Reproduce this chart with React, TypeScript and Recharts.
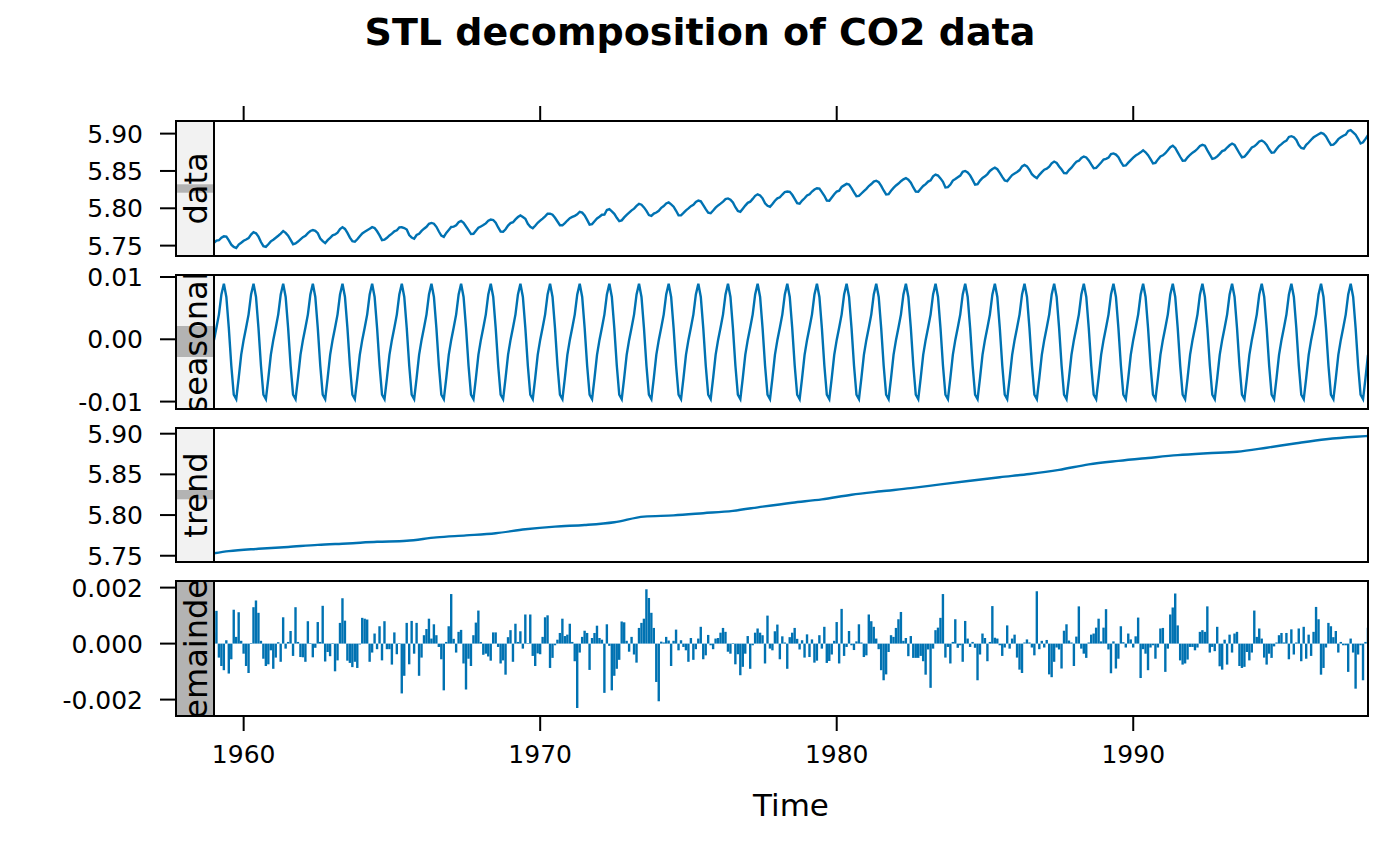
import { LineChart, Line, BarChart, Bar, XAxis, YAxis } from 'recharts'

// monthly series, January 1959 to December 1997
const START_YEAR = 1959
const FREQUENCY = 12
const TIME_DOMAIN: [number, number] = [1959, 1997.917]
const YEAR_TICKS = [1960, 1970, 1980, 1990]

// data panel (log CO2)
const LOG_CO2 = [
  5.7538, 5.7566, 5.7572, 5.7606, 5.7624, 5.762, 5.7569, 5.7513, 5.7483, 5.7467, 5.7514, 5.7538,
  5.7565, 5.7582, 5.7601, 5.7647, 5.7679, 5.7665, 5.762, 5.7548, 5.7493, 5.7483, 5.7519, 5.7557,
  5.7579, 5.7605, 5.7632, 5.7661, 5.7696, 5.7671, 5.7633, 5.7576, 5.7519, 5.753, 5.7554, 5.7583,
  5.7613, 5.7632, 5.7668, 5.7696, 5.7709, 5.7697, 5.7666, 5.7596, 5.756, 5.7533, 5.7573, 5.7605,
  5.7638, 5.7649, 5.7674, 5.7721, 5.7747, 5.7724, 5.767, 5.7607, 5.7558, 5.7551, 5.7585, 5.7626,
  5.7664, 5.7685, 5.7706, 5.7726, 5.7747, 5.7736, 5.7692, 5.7637, 5.7573, 5.7579, 5.7605, 5.7637,
  5.766, 5.7692, 5.7706, 5.7744, 5.7745, 5.7736, 5.7716, 5.7642, 5.7609, 5.7592, 5.7642, 5.7659,
  5.7697, 5.7727, 5.7752, 5.7792, 5.7804, 5.7794, 5.7752, 5.7689, 5.7635, 5.7618, 5.7671, 5.771,
  5.775, 5.7755, 5.7772, 5.7814, 5.7832, 5.7804, 5.7756, 5.7707, 5.7655, 5.7659, 5.77, 5.7739,
  5.7757, 5.7775, 5.7798, 5.7833, 5.7849, 5.7843, 5.7806, 5.7743, 5.7689, 5.7686, 5.7719, 5.7768,
  5.7801, 5.7814, 5.7852, 5.7883, 5.7905, 5.7884, 5.7859, 5.7791, 5.7752, 5.7733, 5.7766, 5.7805,
  5.7834, 5.7862, 5.7892, 5.7928, 5.7927, 5.7914, 5.7873, 5.7823, 5.7773, 5.7772, 5.7802, 5.7836,
  5.7868, 5.7884, 5.7899, 5.7918, 5.7953, 5.7942, 5.7905, 5.7845, 5.7782, 5.7788, 5.7826, 5.7863,
  5.7886, 5.7913, 5.7916, 5.7977, 5.7988, 5.7958, 5.7926, 5.7873, 5.7827, 5.7838, 5.7878, 5.7911,
  5.7941, 5.7972, 5.7995, 5.8031, 5.806, 5.8048, 5.8012, 5.7965, 5.7909, 5.7899, 5.7929, 5.7944,
  5.7966, 5.8007, 5.803, 5.8065, 5.8078, 5.8053, 5.8021, 5.7967, 5.7907, 5.7905, 5.7938, 5.7973,
  5.7998, 5.8028, 5.8047, 5.8085, 5.8104, 5.8093, 5.8043, 5.7988, 5.7942, 5.7934, 5.797, 5.8009,
  5.8038, 5.8062, 5.809, 5.8123, 5.8132, 5.8115, 5.8077, 5.8014, 5.7964, 5.7953, 5.7995, 5.8036,
  5.8073, 5.8088, 5.8126, 5.8167, 5.8187, 5.8173, 5.8133, 5.8068, 5.8033, 5.802, 5.8058, 5.8101,
  5.8134, 5.8147, 5.8184, 5.8218, 5.8225, 5.8221, 5.8181, 5.8126, 5.8069, 5.8062, 5.8103, 5.8134,
  5.8172, 5.8188, 5.8224, 5.8251, 5.8269, 5.8263, 5.8217, 5.8168, 5.8103, 5.8101, 5.8144, 5.8187,
  5.8225, 5.8235, 5.8287, 5.8307, 5.8327, 5.8318, 5.8271, 5.8213, 5.8162, 5.8165, 5.8198, 5.8231,
  5.8261, 5.8298, 5.8325, 5.8357, 5.8369, 5.835, 5.8299, 5.8238, 5.8186, 5.819, 5.8235, 5.8273,
  5.8306, 5.8331, 5.8363, 5.8388, 5.8404, 5.8382, 5.8344, 5.8279, 5.8224, 5.8221, 5.8262, 5.8299,
  5.8324, 5.8358, 5.8374, 5.8428, 5.8451, 5.8438, 5.84, 5.8354, 5.828, 5.8284, 5.8318, 5.8371,
  5.8392, 5.8415, 5.8438, 5.8489, 5.85, 5.8481, 5.8441, 5.838, 5.8316, 5.8324, 5.8371, 5.8407,
  5.8428, 5.8458, 5.85, 5.8526, 5.8543, 5.8523, 5.8474, 5.842, 5.8374, 5.8365, 5.8407, 5.8445,
  5.8467, 5.8486, 5.8512, 5.8561, 5.858, 5.8561, 5.8514, 5.8456, 5.8425, 5.8405, 5.8448, 5.8484,
  5.8517, 5.853, 5.8557, 5.8602, 5.8626, 5.8609, 5.856, 5.8519, 5.8471, 5.8469, 5.8511, 5.8544,
  5.8586, 5.8623, 5.8637, 5.8675, 5.8693, 5.8681, 5.8642, 5.8587, 5.8537, 5.8542, 5.8577, 5.8613,
  5.8653, 5.8662, 5.8679, 5.8727, 5.8735, 5.8719, 5.8685, 5.8622, 5.8569, 5.8574, 5.8611, 5.8646,
  5.8678, 5.8707, 5.8727, 5.8749, 5.8776, 5.875, 5.8711, 5.8657, 5.8602, 5.8609, 5.8655, 5.8694,
  5.8709, 5.8738, 5.8777, 5.8818, 5.8839, 5.8808, 5.875, 5.869, 5.8637, 5.8639, 5.8682, 5.8717,
  5.8745, 5.8766, 5.8797, 5.8835, 5.8849, 5.8838, 5.8775, 5.8718, 5.8662, 5.867, 5.8695, 5.8729,
  5.8766, 5.8779, 5.8814, 5.8844, 5.8867, 5.8848, 5.8791, 5.8734, 5.8683, 5.8691, 5.8729, 5.877,
  5.8814, 5.883, 5.886, 5.8895, 5.8907, 5.8887, 5.8848, 5.879, 5.8744, 5.8748, 5.8793, 5.8834,
  5.886, 5.8889, 5.8906, 5.8956, 5.8966, 5.8951, 5.8914, 5.8847, 5.8808, 5.8799, 5.885, 5.8881,
  5.8918, 5.8951, 5.8972, 5.8991, 5.901, 5.8998, 5.8962, 5.8903, 5.8849, 5.8853, 5.8883, 5.8926,
  5.895, 5.8972, 5.8987, 5.9036, 5.9048, 5.9017, 5.8985, 5.8931, 5.8868, 5.8884, 5.8929, 5.898,
]

// seasonal panel, one row per year
const SEASONAL_BY_YEAR = [
  [-0.0001, 0.0019, 0.004, 0.0072, 0.0089, 0.0068, 0.0018, -0.0042, -0.0089, -0.0096, -0.0062, -0.0025],
  [-0.0001, 0.0019, 0.004, 0.0072, 0.0089, 0.0068, 0.0018, -0.0042, -0.0089, -0.0096, -0.0062, -0.0025],
  [-0.0001, 0.0019, 0.004, 0.0072, 0.0089, 0.0068, 0.0018, -0.0042, -0.0089, -0.0096, -0.0062, -0.0025],
  [-0.0001, 0.0019, 0.004, 0.0072, 0.0089, 0.0068, 0.0018, -0.0042, -0.0089, -0.0096, -0.0062, -0.0025],
  [-0.0001, 0.0019, 0.004, 0.0072, 0.0089, 0.0068, 0.0018, -0.0042, -0.0089, -0.0096, -0.0062, -0.0025],
  [-0.0001, 0.0019, 0.004, 0.0072, 0.0089, 0.0068, 0.0018, -0.0042, -0.0089, -0.0096, -0.0062, -0.0025],
  [-0.0001, 0.0019, 0.004, 0.0072, 0.0089, 0.0068, 0.0018, -0.0042, -0.0089, -0.0096, -0.0062, -0.0025],
  [-0.0001, 0.0019, 0.004, 0.0072, 0.0089, 0.0068, 0.0018, -0.0042, -0.0089, -0.0096, -0.0062, -0.0025],
  [-0.0001, 0.0019, 0.004, 0.0072, 0.0089, 0.0068, 0.0018, -0.0042, -0.0089, -0.0096, -0.0062, -0.0025],
  [-0.0001, 0.0019, 0.004, 0.0072, 0.0089, 0.0068, 0.0018, -0.0042, -0.0089, -0.0096, -0.0062, -0.0025],
  [-0.0001, 0.0019, 0.004, 0.0072, 0.0089, 0.0068, 0.0018, -0.0042, -0.0089, -0.0096, -0.0062, -0.0025],
  [-0.0001, 0.0019, 0.004, 0.0072, 0.0089, 0.0068, 0.0018, -0.0042, -0.0089, -0.0096, -0.0062, -0.0025],
  [-0.0001, 0.0019, 0.004, 0.0072, 0.0089, 0.0068, 0.0018, -0.0042, -0.0089, -0.0096, -0.0062, -0.0025],
  [-0.0001, 0.0019, 0.004, 0.0072, 0.0089, 0.0068, 0.0018, -0.0042, -0.0089, -0.0096, -0.0062, -0.0025],
  [-0.0001, 0.0019, 0.004, 0.0072, 0.0089, 0.0068, 0.0018, -0.0042, -0.0089, -0.0096, -0.0062, -0.0025],
  [-0.0001, 0.0019, 0.004, 0.0072, 0.0089, 0.0068, 0.0018, -0.0042, -0.0089, -0.0096, -0.0062, -0.0025],
  [-0.0001, 0.0019, 0.004, 0.0072, 0.0089, 0.0068, 0.0018, -0.0042, -0.0089, -0.0096, -0.0062, -0.0025],
  [-0.0001, 0.0019, 0.004, 0.0072, 0.0089, 0.0068, 0.0018, -0.0042, -0.0089, -0.0096, -0.0062, -0.0025],
  [-0.0001, 0.0019, 0.004, 0.0072, 0.0089, 0.0068, 0.0018, -0.0042, -0.0089, -0.0096, -0.0062, -0.0025],
  [-0.0001, 0.0019, 0.004, 0.0072, 0.0089, 0.0068, 0.0018, -0.0042, -0.0089, -0.0096, -0.0062, -0.0025],
  [-0.0001, 0.0019, 0.004, 0.0072, 0.0089, 0.0068, 0.0018, -0.0042, -0.0089, -0.0096, -0.0062, -0.0025],
  [-0.0001, 0.0019, 0.004, 0.0072, 0.0089, 0.0068, 0.0018, -0.0042, -0.0089, -0.0096, -0.0062, -0.0025],
  [-0.0001, 0.0019, 0.004, 0.0072, 0.0089, 0.0068, 0.0018, -0.0042, -0.0089, -0.0096, -0.0062, -0.0025],
  [-0.0001, 0.0019, 0.004, 0.0072, 0.0089, 0.0068, 0.0018, -0.0042, -0.0089, -0.0096, -0.0062, -0.0025],
  [-0.0001, 0.0019, 0.004, 0.0072, 0.0089, 0.0068, 0.0018, -0.0042, -0.0089, -0.0096, -0.0062, -0.0025],
  [-0.0001, 0.0019, 0.004, 0.0072, 0.0089, 0.0068, 0.0018, -0.0042, -0.0089, -0.0096, -0.0062, -0.0025],
  [-0.0001, 0.0019, 0.004, 0.0072, 0.0089, 0.0068, 0.0018, -0.0042, -0.0089, -0.0096, -0.0062, -0.0025],
  [-0.0001, 0.0019, 0.004, 0.0072, 0.0089, 0.0068, 0.0018, -0.0042, -0.0089, -0.0096, -0.0062, -0.0025],
  [-0.0001, 0.0019, 0.004, 0.0072, 0.0089, 0.0068, 0.0018, -0.0042, -0.0089, -0.0096, -0.0062, -0.0025],
  [-0.0001, 0.0019, 0.004, 0.0072, 0.0089, 0.0068, 0.0018, -0.0042, -0.0089, -0.0096, -0.0062, -0.0025],
  [-0.0001, 0.0019, 0.004, 0.0072, 0.0089, 0.0068, 0.0018, -0.0042, -0.0089, -0.0096, -0.0062, -0.0025],
  [-0.0001, 0.0019, 0.004, 0.0072, 0.0089, 0.0068, 0.0018, -0.0042, -0.0089, -0.0096, -0.0062, -0.0025],
  [-0.0001, 0.0019, 0.004, 0.0072, 0.0089, 0.0068, 0.0018, -0.0042, -0.0089, -0.0096, -0.0062, -0.0025],
  [-0.0001, 0.0019, 0.004, 0.0072, 0.0089, 0.0068, 0.0018, -0.0042, -0.0089, -0.0096, -0.0062, -0.0025],
  [-0.0001, 0.0019, 0.004, 0.0072, 0.0089, 0.0068, 0.0018, -0.0042, -0.0089, -0.0096, -0.0062, -0.0025],
  [-0.0001, 0.0019, 0.004, 0.0072, 0.0089, 0.0068, 0.0018, -0.0042, -0.0089, -0.0096, -0.0062, -0.0025],
  [-0.0001, 0.0019, 0.004, 0.0072, 0.0089, 0.0068, 0.0018, -0.0042, -0.0089, -0.0096, -0.0062, -0.0025],
  [-0.0001, 0.0019, 0.004, 0.0072, 0.0089, 0.0068, 0.0018, -0.0042, -0.0089, -0.0096, -0.0062, -0.0025],
  [-0.0001, 0.0019, 0.004, 0.0072, 0.0089, 0.0068, 0.0018, -0.0042, -0.0089, -0.0096, -0.0062, -0.0025],
]

// trend panel, smooth curve read at start, mid-years and end
const TREND_TIME = [
  1959, 1959.5, 1960.5, 1961.5, 1962.5, 1963.5, 1964.5, 1965.5, 1966.5, 1967.5, 1968.5,
  1969.5, 1970.5, 1971.5, 1972.5, 1973.5, 1974.5, 1975.5, 1976.5, 1977.5, 1978.5,
  1979.5, 1980.5, 1981.5, 1982.5, 1983.5, 1984.5, 1985.5, 1986.5, 1987.5, 1988.5,
  1989.5, 1990.5, 1991.5, 1992.5, 1993.5, 1994.5, 1995.5, 1996.5, 1997.5, 1997.917,
]
const TREND = [
  5.753, 5.7556, 5.7585, 5.7608, 5.7634, 5.7651, 5.7671, 5.7684, 5.7726, 5.775, 5.7777,
  5.7825, 5.7858, 5.7878, 5.7912, 5.7981, 5.7996, 5.8023, 5.8052, 5.8104, 5.8152,
  5.8193, 5.825, 5.8292, 5.8331, 5.8377, 5.8422, 5.8465, 5.8504, 5.8555, 5.8623,
  5.8666, 5.8702, 5.8736, 5.8759, 5.8778, 5.8828, 5.8883, 5.8932, 5.8963, 5.8972,
]

// remainder panel, one row per year
const REMAINDER = [
  0.0004, 0.00117, -0.0005, -0.0008, -0.00095, 0.00012, -0.00107, -0.00056, 0.00121, 0.00024, 0.00112, 0.0001,
  -0.00036, -0.0008, -0.00105, 0.00002, 0.0013, 0.00154, 0.0011, 0.0001, -0.00054, -0.0008, -0.00074, -0.00024,
  -0.0009, -0.0005, 0.00005, -0.00065, 0.00094, -0.00018, 0.00006, 0.00045, -0.00044, 0.0013, 0.00006, -0.00048,
  -0.00049, -0.00065, 0.0008, 0.00002, -0.00049, -0.00015, 0.00077, 0.00006, 0.00135, -0.00064, -0.0003, -0.00045,
  0.00002, -0.00099, -0.0006, 0.00074, 0.00162, 0.00082, -0.00061, -0.00069, -0.00084, -0.00065, -0.00087, -0.00003,
  0.00092, 0.00089, 0.00086, -0.00065, -0.00032, 0.00036, -0.0002, 0.00062, -0.0006, 0.0008, -0.0002, -0.0002,
  -0.00075, 0.0004, -0.00038, 0.00002, -0.00178, -0.00115, 0.00074, -0.00074, 0.00081, -0.00036, 0.00074, -0.00115,
  -0.0005, 0.0003, 0.00052, 0.00089, 0.00018, 0.00069, 0.0003, -0.00012, -0.00056, -0.00167, 0.00006, 0.00062,
  0.00177, 0.00017, -0.00032, 0.00042, 0.00049, -0.00071, -0.00164, -0.00054, -0.0008, 0.0003, 0.00075, 0.00118,
  0.00006, -0.0004, -0.00036, -0.00046, -0.00061, 0.0004, 0.0004, -0.00012, -0.00071, -0.0006, -0.00111, 0.00023,
  0.00048, -0.00065, 0.00071, 0.00006, 0.00044, -0.00018, 0.00104, 0.00002, 0.00104, -0.00044, -0.0008, -0.00035,
  -0.00038, 0.00024, 0.00094, 0.00101, -0.00087, -0.00051, -0.00006, 0.00014, 0.00038, 0.00089, 0.00027, 0.00032,
  0.00071, 0.00006, -0.00063, -0.0023, -0.00032, 0.00024, 0.00046, 0.00038, -0.00094, 0.0002, 0.00038, 0.00064,
  0.0002, 0.00014, -0.00176, 0.00069, -0.00008, -0.00167, -0.00115, -0.0009, -0.00058, 0.00079, 0.00076, 0.0001,
  -0.00029, 0.00024, -0.00039, -0.00068, 0.00056, 0.00074, 0.00089, 0.00194, 0.00163, 0.0011, 0.00056, -0.00137,
  -0.00206, 0.00007, 0.00004, 0.00024, 0.00011, -0.0008, 0.0001, 0.0005, -0.00024, 0.00012, -0.00012, -0.00024,
  -0.00065, 0.0002, -0.00058, -0.0002, 0.00018, 0.0006, -0.00056, -0.00042, 0.00031, -0.00006, -0.0002, 0.00018,
  0.0002, 0.00039, 0.00056, 0.00042, -0.00029, -0.00036, 0.00002, -0.00074, -0.00038, -0.00113, -0.00083, -0.00036,
  0.00027, -0.0009, -0.00006, 0.00039, 0.00054, 0.00039, 0.0003, -0.00071, 0.001, -0.00018, -0.00024, 0.00044,
  0.00068, -0.00056, 0.00026, 0.00004, -0.0009, 0.00023, 0.00039, 0.00056, 0.00017, -0.00021, 0.00012, -0.0005,
  0.00033, -0.00048, 0.00015, -0.00068, -0.00061, 0.0003, -0.00018, 0.0006, -0.00069, -0.00062, -0.00039, 0.0001,
  0.00077, -0.00071, 0.00124, -0.00044, -0.00012, 0.00045, -0.00006, -0.00023, 0.00008, 0.00069, 0.00004, -0.00048,
  -0.00042, 0.00104, 0.0008, 0.0006, 0.00018, -0.0002, -0.00095, -0.00131, -0.0011, -0.0003, 0.0003, 0.00024,
  0.00056, 0.00087, 0.00113, 0.0001, 0.0002, -0.00045, 0.00027, -0.00051, -0.00051, -0.00051, -0.00044, -0.00063,
  -0.00111, -0.00021, -0.00158, -0.00018, 0.00048, 0.00057, 0.00092, 0.00177, -0.0005, -0.00012, -0.00071, 0.00006,
  0.00087, -0.00015, -0.00006, -0.00065, 0.00081, 0.00018, -0.00012, 0.00006, -0.00015, -0.00131, -0.00039, 0.00036,
  0.0002, -0.00063, 0.00006, 0.00134, 0.00021, 0.00018, -0.00006, -0.00044, -0.00014, 0.00065, -0.00018, 0.00018,
  0.00032, -0.0005, -0.00093, -0.00105, 0.00004, 0.00015, 0.00004, -0.00014, -0.00042, 0.00187, -0.0002, 0.0001,
  -0.00014, 0.00013, -0.0011, -0.0012, -0.00065, -0.00014, -0.00021, -0.00089, 0.00046, 0.00069, 0.00011, 0.00004,
  -0.0008, 0.00025, 0.00133, -0.00018, -0.00036, -0.00051, 0.00004, 0.00032, 0.00036, 0.00057, 0.00089, 0.00008,
  0.00057, 0.00123, -0.00021, -0.00106, 0.00008, -0.00089, -0.00054, 0.00062, 0.00005, -0.00014, 0.00036, 0.00015,
  -0.00014, 0.00026, 0.00093, -0.00123, -0.0002, -0.00036, -0.00095, -0.00014, -0.00006, -0.00054, -0.00014, 0.00054,
  0.00056, -0.00101, -0.00018, 0.00104, 0.00129, 0.00179, 0.00065, -0.0006, -0.00075, -0.00071, -0.00057, -0.00012,
  -0.00012, -0.00024, -0.00014, 0.00042, 0.00048, 0.00042, 0.00133, -0.00032, -0.00012, -0.00027, 0.0006, -0.00081,
  -0.00093, 0.00014, -0.00075, 0.00032, -0.00032, 0.00036, 0.00042, -0.0008, -0.00087, -0.00083, -0.0003, -0.0006,
  -0.00032, 0.00118, 0.00024, 0.00054, 0.00018, -0.0005, -0.00075, -0.00036, -0.00051, -0.0001, 0.00004, 0.0003,
  0.00038, 0.00004, 0.00038, -0.00056, 0.00051, -0.00039, 0.00004, 0.00054, -0.00063, 0.0006, -0.00054, 0.00032,
  -0.00044, 0.00042, 0.00131, 0.00087, -0.00111, -0.00087, -0.00014, 0.00074, 0.00062, 0.00023, 0.00045, -0.00032,
  0.00006, -0.00006, -0.00006, -0.00101, 0.00018, -0.00032, -0.00161, -0.00039, -0.00006, -0.00131, 0.00006, 0.00057,
]

const LEVEL_TICKS = [5.75, 5.8, 5.85, 5.9]
const LEVEL_TICK_LABELS = ['5.75', '5.80', '5.85', '5.90']
const SEASONAL_TICKS = [-0.01, 0, 0.01]
const SEASONAL_TICK_LABELS = ['-0.01', '0.00', '0.01']
const REMAINDER_TICKS = [-0.002, 0, 0.002]
const REMAINDER_TICK_LABELS = ['-0.002', '0.000', '0.002']

const SEASONAL = SEASONAL_BY_YEAR.flat()
const MONTHLY = LOG_CO2.map((value, i) => ({
  time: START_YEAR + i / FREQUENCY,
  data: value,
  seasonal: SEASONAL[i],
  remainder: REMAINDER[i],
}))
const TREND_ROWS = TREND_TIME.map((t, i) => ({ time: t, trend: TREND[i] }))

const BLUE = '#0072B2'
const FONT = '"DejaVu Sans", Verdana, sans-serif'
const PLOT_LEFT = 214
const PLOT_RIGHT = 1368
const STRIP_LEFT = 176
const PAD = 20 // room above/below each plot so the edge tick labels are not clipped

const PANELS = [
  { name: 'data', top: 121, bottom: 256, band: [184.3, 192.7] },
  { name: 'seasonal', top: 275, bottom: 409, band: [326, 357] },
  { name: 'trend', top: 428, bottom: 562, band: [490, 499.3] },
  { name: 'remainder', top: 581, bottom: 716, band: [581, 716] },
]

function yTick(ticks: number[], labels: string[]) {
  return (props: any) => {
    const { y, payload } = props
    const label = labels[ticks.indexOf(payload.value)]
    return (
      <g>
        <line x1={160} x2={STRIP_LEFT} y1={y} y2={y} stroke="#000" strokeWidth={2} />
        <text x={143} y={y + 9} textAnchor="end" fontSize={25} fontFamily={FONT} fill="#000">
          {label}
        </text>
      </g>
    )
  }
}

const topTick = (props: any) => (
  <line x1={props.x} x2={props.x} y1={3} y2={18} stroke="#000" strokeWidth={2} />
)

const bottomTick = (props: any) => (
  <g>
    <line x1={props.x} x2={props.x} y1={PAD + 135} y2={PAD + 150} stroke="#000" strokeWidth={2} />
    <text x={props.x} y={PAD + 182} textAnchor="middle" fontSize={25} fontFamily={FONT} fill="#000">
      {props.payload.value}
    </text>
  </g>
)

const hiddenX = (
  <XAxis dataKey="time" type="number" domain={TIME_DOMAIN} allowDataOverflow hide />
)

export default function App() {
  const right = 1400 - PLOT_RIGHT
  return (
    <div style={{ position: 'absolute', left: 0, top: 0, width: 1400, height: 866, background: '#fff' }}>
      {/* data */}
      <div style={{ position: 'absolute', left: 0, top: 103 }}>
        <LineChart width={1400} height={153 + PAD} data={MONTHLY} margin={{ top: 0, right, bottom: PAD, left: 0 }}>
          <XAxis
            dataKey="time"
            type="number"
            orientation="top"
            height={18}
            domain={TIME_DOMAIN}
            ticks={YEAR_TICKS}
            interval={0}
            allowDataOverflow
            axisLine={false}
            tickLine={false}
            tick={topTick}
          />
          <YAxis
            width={PLOT_LEFT}
            domain={[5.7361, 5.9169]}
            ticks={LEVEL_TICKS}
            interval={0}
            allowDataOverflow
            axisLine={false}
            tickLine={false}
            tick={yTick(LEVEL_TICKS, LEVEL_TICK_LABELS)}
          />
          <Line dataKey="data" stroke={BLUE} strokeWidth={2.4} dot={false} isAnimationActive={false} type="linear" />
        </LineChart>
      </div>

      {/* seasonal */}
      <div style={{ position: 'absolute', left: 0, top: 275 - PAD }}>
        <LineChart width={1400} height={134 + 2 * PAD} data={MONTHLY} margin={{ top: PAD, right, bottom: PAD, left: 0 }}>
          {hiddenX}
          <YAxis
            width={PLOT_LEFT}
            domain={[-0.01119, 0.01032]}
            ticks={SEASONAL_TICKS}
            interval={0}
            allowDataOverflow
            axisLine={false}
            tickLine={false}
            tick={yTick(SEASONAL_TICKS, SEASONAL_TICK_LABELS)}
          />
          <Line dataKey="seasonal" stroke={BLUE} strokeWidth={2.4} dot={false} isAnimationActive={false} type="linear" />
        </LineChart>
      </div>

      {/* trend */}
      <div style={{ position: 'absolute', left: 0, top: 428 - PAD }}>
        <LineChart width={1400} height={134 + 2 * PAD} data={TREND_ROWS} margin={{ top: PAD, right, bottom: PAD, left: 0 }}>
          {hiddenX}
          <YAxis
            width={PLOT_LEFT}
            domain={[5.7423, 5.907]}
            ticks={LEVEL_TICKS}
            interval={0}
            allowDataOverflow
            axisLine={false}
            tickLine={false}
            tick={yTick(LEVEL_TICKS, LEVEL_TICK_LABELS)}
          />
          <Line dataKey="trend" stroke={BLUE} strokeWidth={2.4} dot={false} isAnimationActive={false} type="monotone" />
        </LineChart>
      </div>

      {/* remainder */}
      <div style={{ position: 'absolute', left: 0, top: 581 - PAD }}>
        <BarChart width={1400} height={135 + 60 + PAD} data={MONTHLY} margin={{ top: PAD, right, bottom: 0, left: 0 }}>
          <XAxis
            dataKey="time"
            type="number"
            height={60}
            domain={TIME_DOMAIN}
            ticks={YEAR_TICKS}
            interval={0}
            allowDataOverflow
            axisLine={false}
            tickLine={false}
            tick={bottomTick}
          />
          <YAxis
            width={PLOT_LEFT}
            domain={[-0.002586, 0.002236]}
            ticks={REMAINDER_TICKS}
            interval={0}
            allowDataOverflow
            axisLine={false}
            tickLine={false}
            tick={yTick(REMAINDER_TICKS, REMAINDER_TICK_LABELS)}
          />
          <Bar dataKey="remainder" fill={BLUE} barSize={2.4} isAnimationActive={false} />
        </BarChart>
      </div>

      {/* frames, strips, titles */}
      <svg
        width={1400}
        height={866}
        style={{ position: 'absolute', left: 0, top: 0, pointerEvents: 'none' }}
        fontFamily={FONT}
      >
        <defs>
          {PANELS.map((p) => (
            <clipPath key={p.name} id={`strip-${p.name}`}>
              <rect x={STRIP_LEFT} y={p.top} width={PLOT_LEFT - STRIP_LEFT} height={p.bottom - p.top} />
            </clipPath>
          ))}
        </defs>
        <text x={700} y={45} textAnchor="middle" fontSize={38} fontWeight="bold" fill="#000">
          STL decomposition of CO2 data
        </text>
        {PANELS.map((p) => (
          <g key={p.name}>
            <rect x={STRIP_LEFT} y={p.top} width={PLOT_LEFT - STRIP_LEFT} height={p.bottom - p.top} fill="#F2F2F2" />
            <rect x={STRIP_LEFT} y={p.band[0]} width={PLOT_LEFT - STRIP_LEFT} height={p.band[1] - p.band[0]} fill="#B3B3B3" />
            <g clipPath={`url(#strip-${p.name})`}>
              <text
                transform={`translate(206.5, ${(p.top + p.bottom) / 2}) rotate(-90)`}
                textAnchor="middle"
                fontSize={32}
                fill="#000"
              >
                {p.name}
              </text>
            </g>
            <rect x={STRIP_LEFT} y={p.top} width={PLOT_LEFT - STRIP_LEFT} height={p.bottom - p.top} fill="none" stroke="#000" strokeWidth={2} />
            <rect x={PLOT_LEFT} y={p.top} width={PLOT_RIGHT - PLOT_LEFT} height={p.bottom - p.top} fill="none" stroke="#000" strokeWidth={2} />
          </g>
        ))}
        <text x={(PLOT_LEFT + PLOT_RIGHT) / 2} y={816} textAnchor="middle" fontSize={31} fill="#000">
          Time
        </text>
      </svg>
    </div>
  )
}
